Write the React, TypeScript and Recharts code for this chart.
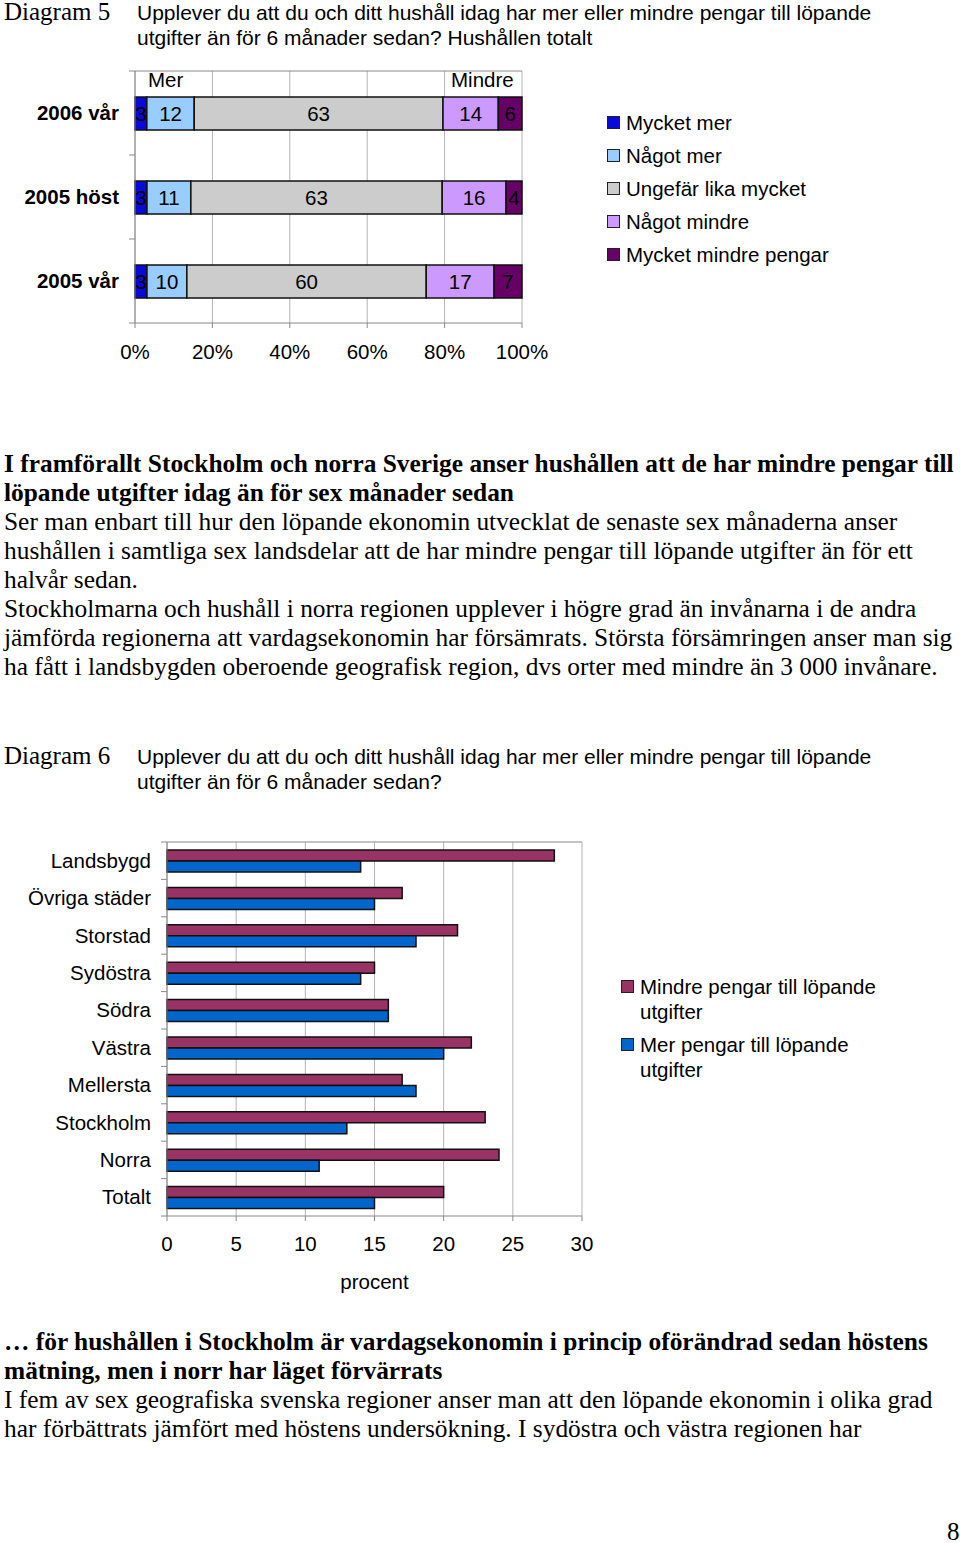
import React from "react";
import { BarChart, Bar, CartesianGrid, LabelList, XAxis, YAxis } from "recharts";

// Diagram 5 – hushållen totalt
const periods = ["2006 vår", "2005 höst", "2005 vår"];
const mycketMer = [3, 3, 3];
const nagotMer = [12, 11, 10];
const ungefarLika = [63, 63, 60];
const nagotMindre = [14, 16, 17];
const mycketMindre = [6, 4, 7];
const pctTicks = [0, 0.2, 0.4, 0.6, 0.8, 1];

// Diagram 6 – regioner
const regions = ["Landsbygd", "Övriga städer", "Storstad", "Sydöstra", "Södra", "Västra", "Mellersta", "Stockholm", "Norra", "Totalt"];
const mindrePengar = [28, 17, 21, 15, 16, 22, 17, 23, 24, 20];
const merPengar = [14, 15, 18, 14, 16, 20, 18, 13, 11, 15];
const procentTicks = [0, 5, 10, 15, 20, 25, 30];

const sans = "'Liberation Sans', Arial, sans-serif";
const serif = "'Liberation Serif', 'Times New Roman', serif";

const series5 = [
  { key: "mm", name: "Mycket mer", color: "#0a0ad8", values: mycketMer },
  { key: "nm", name: "Något mer", color: "#99ccff", values: nagotMer },
  { key: "ul", name: "Ungefär lika mycket", color: "#cccccc", values: ungefarLika },
  { key: "nmi", name: "Något mindre", color: "#cc99ff", values: nagotMindre },
  { key: "mmi", name: "Mycket mindre pengar", color: "#660066", values: mycketMindre }
];

const rows5 = periods.map((period, i) => {
  const row: Record<string, string | number> = { period };
  series5.forEach((s) => (row[s.key] = s.values[i]));
  return row;
});

const series6 = [
  { key: "mindre", name: "Mindre pengar till löpande utgifter", color: "#993366", values: mindrePengar },
  { key: "mer", name: "Mer pengar till löpande utgifter", color: "#0066cc", values: merPengar }
];

const rows6 = regions.map((region, i) => {
  const row: Record<string, string | number> = { region };
  series6.forEach((s) => (row[s.key] = s.values[i]));
  return row;
});

const axisGray = "#888888";
const gridGray = "#b4b4b4";

// top edge of the plot frame
const topEdge = ({ offset }: any) => [offset.top];

function CategoryTick(props: any) {
  const { x, y, payload, index, half, bold } = props;
  const ax = x + 16;
  return (
    <g>
      <text x={x} y={y} dy="0.35em" textAnchor="end" fontFamily={sans} fontSize={20.5} fontWeight={bold ? "bold" : "normal"} fill="#000">
        {payload.value}
      </text>
      {index === 0 && <line x1={ax - 6} x2={ax} y1={y - half} y2={y - half} stroke={axisGray} />}
      <line x1={ax - 6} x2={ax} y1={y + half} y2={y + half} stroke={axisGray} />
    </g>
  );
}

function LegendBox({ items, width, gap, left, top }: any) {
  return (
    <div style={{ position: "absolute", left, top, fontFamily: sans, fontSize: 20.5, lineHeight: "25px", color: "#000" }}>
      {items.map((p: any) => (
        <div key={p.key} style={{ display: "flex", alignItems: "flex-start", marginBottom: gap }}>
          <span style={{ width: 11, height: 11, background: p.color, border: "1px solid #222", marginTop: 6, marginRight: 6, flex: "none" }} />
          <span style={{ width }}>{p.name}</span>
        </div>
      ))}
    </div>
  );
}

const abs = (left: number, top: number): React.CSSProperties => ({ position: "absolute", left, top, whiteSpace: "nowrap" });

export default function App() {
  return (
    <div style={{ position: "absolute", left: 0, top: 0, width: 960, height: 1543, background: "#fff", color: "#000" }}>
      {/* Diagram 5 heading */}
      <div style={{ ...abs(4, -3), fontFamily: serif, fontSize: 25, lineHeight: "30px" }}>Diagram 5</div>
      <div style={{ ...abs(137, 0), fontFamily: sans, fontSize: 21, lineHeight: "25px" }}>
        Upplever du att du och ditt hushåll idag har mer eller mindre pengar till löpande
        <br />
        utgifter än för 6 månader sedan? Hushållen totalt
      </div>

      <div style={{ position: "absolute", left: 0, top: 60 }}>
        <BarChart width={560} height={330} data={rows5} layout="vertical" stackOffset="expand" barSize={33} margin={{ top: 11, right: 38, bottom: 0, left: 0 }}>
          <CartesianGrid horizontal={false} stroke={gridGray} />
          <CartesianGrid vertical={false} horizontalCoordinatesGenerator={topEdge} stroke={axisGray} />
          <XAxis
            type="number"
            domain={[0, 1]}
            ticks={pctTicks}
            tickFormatter={(v: number) => `${Math.round(v * 100)}%`}
            tick={{ fontFamily: sans, fontSize: 20.5, fill: "#000" }}
            tickSize={5}
            tickMargin={16}
            stroke={axisGray}
            height={67}
          />
          <YAxis
            type="category"
            dataKey="period"
            width={135}
            tickLine={false}
            tickSize={6}
            tickMargin={10}
            stroke={axisGray}
            tick={<CategoryTick half={42} bold />}
          />
          {series5.map((s) => (
            <Bar key={s.key} dataKey={s.key} name={s.name} stackId="a" fill={s.color} stroke="#111" strokeWidth={1.5} isAnimationActive={false}>
              <LabelList dataKey={s.key} position="center" fill="#000" fontFamily={sans} fontSize={20.5} />
            </Bar>
          ))}
        </BarChart>
      </div>
      <div style={{ ...abs(148, 67), fontFamily: sans, fontSize: 20.5, lineHeight: "25px" }}>Mer</div>
      <div style={{ ...abs(451, 67), fontFamily: sans, fontSize: 20.5, lineHeight: "25px" }}>Mindre</div>
      <LegendBox items={series5} width={260} gap={8} left={607} top={110} />

      {/* Text block 1 */}
      <div style={{ ...abs(4, 449), fontFamily: serif, fontSize: 25.4, lineHeight: "29px" }}>
        <div style={{ fontWeight: "bold" }}>
          I framförallt Stockholm och norra Sverige anser hushållen att de har mindre pengar till
          <br />
          löpande utgifter idag än för sex månader sedan
        </div>
        <div>
          Ser man enbart till hur den löpande ekonomin utvecklat de senaste sex månaderna anser
          <br />
          hushållen i samtliga sex landsdelar att de har mindre pengar till löpande utgifter än för ett
          <br />
          halvår sedan.
          <br />
          Stockholmarna och hushåll i norra regionen upplever i högre grad än invånarna i de andra
          <br />
          jämförda regionerna att vardagsekonomin har försämrats. Största försämringen anser man sig
          <br />
          ha fått i landsbygden oberoende geografisk region, dvs orter med mindre än 3 000 invånare.
        </div>
      </div>

      {/* Diagram 6 heading */}
      <div style={{ ...abs(4, 741), fontFamily: serif, fontSize: 25, lineHeight: "30px" }}>Diagram 6</div>
      <div style={{ ...abs(137, 744), fontFamily: sans, fontSize: 21, lineHeight: "25px" }}>
        Upplever du att du och ditt hushåll idag har mer eller mindre pengar till löpande
        <br />
        utgifter än för 6 månader sedan?
      </div>

      <div style={{ position: "absolute", left: 0, top: 830 }}>
        <BarChart width={600} height={470} data={rows6} layout="vertical" barSize={11} barGap={0} margin={{ top: 12, right: 18, bottom: 0, left: 0 }}>
          <CartesianGrid horizontal={false} stroke={gridGray} />
          <CartesianGrid vertical={false} horizontalCoordinatesGenerator={topEdge} stroke={axisGray} />
          <XAxis
            type="number"
            domain={[0, 30]}
            ticks={procentTicks}
            tick={{ fontFamily: sans, fontSize: 20.5, fill: "#000" }}
            tickSize={5}
            tickMargin={15}
            stroke={axisGray}
            height={84}
            label={{ value: "procent", position: "insideBottom", offset: 11, fontFamily: sans, fontSize: 20.5, fill: "#000" }}
          />
          <YAxis
            type="category"
            dataKey="region"
            width={167}
            tickLine={false}
            tickSize={6}
            tickMargin={10}
            stroke={axisGray}
            tick={<CategoryTick half={18.7} />}
          />
          {series6.map((s) => (
            <Bar key={s.key} dataKey={s.key} name={s.name} fill={s.color} stroke="#111" strokeWidth={1.5} isAnimationActive={false} />
          ))}
        </BarChart>
      </div>
      <LegendBox items={series6} width={245} gap={8} left={621} top={974} />

      {/* Text block 2 */}
      <div style={{ ...abs(4, 1327), fontFamily: serif, fontSize: 25.4, lineHeight: "29px" }}>
        <div style={{ fontWeight: "bold" }}>
          … för hushållen i Stockholm är vardagsekonomin i princip oförändrad sedan höstens
          <br />
          mätning, men i norr har läget förvärrats
        </div>
        <div>
          I fem av sex geografiska svenska regioner anser man att den löpande ekonomin i olika grad
          <br />
          har förbättrats jämfört med höstens undersökning. I sydöstra och västra regionen har
        </div>
      </div>

      <div style={{ ...abs(947, 1517), fontFamily: serif, fontSize: 25, lineHeight: "30px" }}>8</div>
    </div>
  );
}
